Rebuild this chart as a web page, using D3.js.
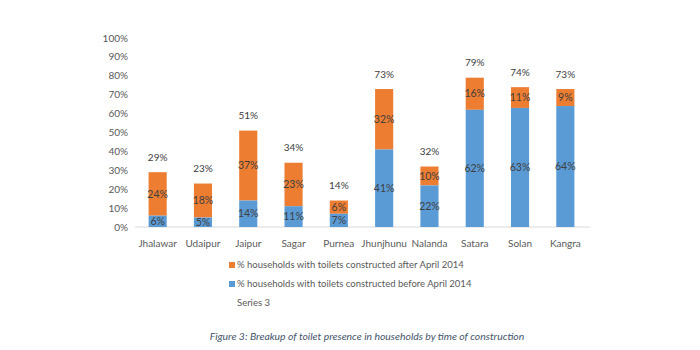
<!DOCTYPE html>
<html>
<head>
<meta charset="utf-8">
<script src="https://cdn.jsdelivr.net/npm/d3@7"></script>
<style>
  body { margin: 0; background: #fff; }
  text { font-family: Lato, "Open Sans", sans-serif; }
</style>
</head>
<body>
<div id="chart"></div>
<script>
const districts = ["Jhalawar", "Udaipur", "Jaipur", "Sagar", "Purnea", "Jhunjhunu", "Nalanda", "Satara", "Solan", "Kangra"];
const beforeApril = [6, 5, 14, 11, 7, 41, 22, 62, 63, 64];
const afterApril = [24, 18, 37, 23, 6, 32, 10, 16, 11, 9];
const totals = [29, 23, 51, 34, 14, 73, 32, 79, 74, 73];
const yTicks = [0, 10, 20, 30, 40, 50, 60, 70, 80, 90, 100];
const legendLabels = [
    "% households with toilets constructed after April 2014",
    "% households with toilets constructed before April 2014",
    "Series 3"
];
const caption = "Figure 3: Breakup of toilet presence in households by time of construction";

const blue = "#5b9bd5", orange = "#ed7d31";

const svg = d3.select("#chart").append("svg")
    .attr("width", 700)
    .attr("height", 350);

const x = d3.scaleBand().domain(districts).range([135, 588]).paddingInner(0.6).paddingOuter(0.3);
const y = d3.scaleLinear().domain([0, 100]).range([227, 38]);

// y axis labels
svg.append("g").selectAll("text")
    .data(yTicks)
    .join("text")
    .attr("x", 128)
    .attr("y", d => y(d))
    .attr("dy", "0.35em")
    .attr("text-anchor", "end")
    .attr("font-size", 10)
    .attr("fill", "#595959")
    .text(d => d + "%");

// baseline
svg.append("line")
    .attr("x1", 135).attr("x2", 590)
    .attr("y1", y(0)).attr("y2", y(0))
    .attr("stroke", "#d9d9d9");

const rows = districts.map((d, i) => ({ d, b: beforeApril[i], a: afterApril[i], t: totals[i] }));

const bars = svg.append("g").selectAll("g")
    .data(rows)
    .join("g");

bars.append("rect")
    .attr("x", r => x(r.d))
    .attr("width", x.bandwidth())
    .attr("y", r => y(r.t))
    .attr("height", r => y(r.b) - y(r.t))
    .attr("fill", orange);

bars.append("rect")
    .attr("x", r => x(r.d))
    .attr("width", x.bandwidth())
    .attr("y", r => y(r.b))
    .attr("height", r => y(0) - y(r.b))
    .attr("fill", blue);

// segment labels
bars.append("text")
    .attr("x", r => x(r.d) + x.bandwidth() / 2)
    .attr("y", r => y(r.b / 2))
    .attr("dy", "0.35em")
    .attr("text-anchor", "middle")
    .attr("font-size", 10.5)
    .attr("fill", "#404040")
    .text(r => r.b + "%");

bars.append("text")
    .attr("x", r => x(r.d) + x.bandwidth() / 2)
    .attr("y", r => y((r.b + r.t) / 2))
    .attr("dy", "0.35em")
    .attr("text-anchor", "middle")
    .attr("font-size", 10.5)
    .attr("fill", "#404040")
    .text(r => r.a + "%");

// totals above bars
bars.append("text")
    .attr("x", r => x(r.d) + x.bandwidth() / 2)
    .attr("y", r => y(r.t) - 15)
    .attr("dy", "0.35em")
    .attr("text-anchor", "middle")
    .attr("font-size", 10)
    .attr("fill", "#404040")
    .text(r => r.t + "%");

// category labels
svg.append("g").selectAll("text")
    .data(districts)
    .join("text")
    .attr("x", d => x(d) + x.bandwidth() / 2)
    .attr("y", 243)
    .attr("dy", "0.35em")
    .attr("text-anchor", "middle")
    .attr("font-size", 10)
    .attr("fill", "#595959")
    .text(d => d);

// legend
const legendColors = [orange, blue, null];
const legend = svg.append("g").selectAll("g")
    .data(legendLabels)
    .join("g")
    .attr("transform", (d, i) => `translate(229, ${265 + i * 19})`);

legend.filter((d, i) => legendColors[i])
    .append("rect")
    .attr("x", 0).attr("y", -3)
    .attr("width", 6).attr("height", 6)
    .attr("fill", (d, i) => legendColors[legendLabels.indexOf(d)]);

legend.append("text")
    .attr("x", 8)
    .attr("dy", "0.35em")
    .attr("font-size", 9.5)
    .attr("fill", "#595959")
    .text(d => d);

// caption
svg.append("text")
    .attr("x", 367)
    .attr("y", 336)
    .attr("dy", "0.35em")
    .attr("text-anchor", "middle")
    .attr("font-size", 10.4)
    .attr("font-style", "italic")
    .attr("fill", "#44546a")
    .text(caption);
</script>
</body>
</html>
